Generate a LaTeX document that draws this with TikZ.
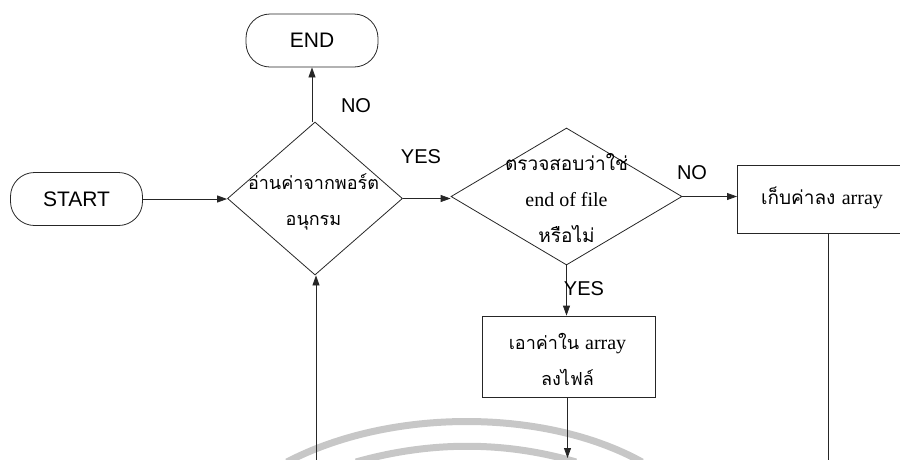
\documentclass[tikz,border=0pt]{standalone}
\usepackage{fontspec}
\setmainfont{Liberation Sans}
\newfontfamily\thaifont[Script=Thai]{Loma}
\newfontfamily\romanfont{Liberation Serif}
\usetikzlibrary{shapes.geometric,arrows.meta}

\tikzset{
  flowline/.style={line width=0.8pt, draw=black!85},
  flowarrow/.style={flowline, -{Triangle[length=10pt,width=7pt]}},
  terminal/.style={draw=black!85, line width=0.8pt, rounded corners=24pt,
    minimum width=132pt, minimum height=53pt, inner sep=0pt,
    font=\fontsize{21}{24}\selectfont},
  decision/.style={draw=black!85, line width=0.8pt, diamond, inner sep=0pt},
  process/.style={draw=black!85, line width=0.8pt, rectangle, inner sep=0pt},
  thaitext/.style={align=center},
  tag/.style={font=\fontsize{20}{24}\selectfont},
  watermark/.style={draw=black!22, line width=7pt}
}
\newcommand{\latinword}[1]{{\romanfont\fontsize{20}{24}\selectfont #1}}

\begin{document}
\begin{tikzpicture}[x=1pt, y=-1pt]
  \useasboundingbox (0,0) rectangle (900,459);

  % faint arcs along the lower edge
  \draw[watermark] (287,462) .. controls (390,408) and (545,408) .. (642,462);
  \draw[watermark] (356,462) .. controls (430,441) and (505,441) .. (576,462);

  % terminals
  \node[terminal] (start) at (76.5,199) {START};
  \node[terminal] (end) at (312,40.5) {END};

  % decisions
  \node[decision, minimum width=175pt, minimum height=153pt] (readport) at (315,198.5) {};
  \node[thaitext, font=\thaifont\fontsize{18}{36}\selectfont] (readtxt) at (313.5,202)
    {อ่านค่าจากพอร์ต\\อนุกรม};

  \node[decision, minimum width=231pt, minimum height=137pt] (eof) at (566.5,196.5) {};
  \node[thaitext, font=\thaifont\fontsize{19}{36}\selectfont] (eoftxt) at (566.5,198)
    {ตรวจสอบว่าใช่\\\latinword{end of file}\\หรือไม่};

  % processes
  \node[process, minimum width=180pt, minimum height=68pt, anchor=west] (store) at (737,199) {};
  \node[thaitext, font=\thaifont\fontsize{19}{24}\selectfont] (storetxt) at (822,198)
    {เก็บค่าลง \latinword{array}};

  \node[process, minimum width=173pt, minimum height=81pt] (save) at (568.5,356.5) {};
  \node[thaitext, font=\thaifont\fontsize{18}{36}\selectfont] (savetxt) at (567.5,359)
    {เอาค่าใน \latinword{array}\\ลงไฟล์};

  % loose ends along the bottom edge
  \coordinate (loopin) at (316,462);
  \coordinate (saveout) at (567.5,458);
  \coordinate (storeout) at (828,462);

  % connectors
  \draw[flowarrow] (start.east) -- (start.east -| readport.west);
  \draw[flowarrow] (readport.north -| end.south) -- (end.south);
  \draw[flowarrow] (readport.east) -- (readport.east -| eof.west);
  \draw[flowarrow] (eof.east) -- (eof.east -| store.west);
  \draw[flowarrow] (eof.south) -- (eof.south |- save.north);
  \draw[flowarrow] (save.south -| saveout) -- (saveout);
  \draw[flowarrow] (loopin) -- (loopin |- readport.south);
  \draw[flowline] (store.south -| storeout) -- (storeout);

  % branch labels
  \node[tag] (noend) at (356,106) {NO};
  \node[tag] (yesread) at (421,157) {YES};
  \node[tag] (noeof) at (692,173) {NO};
  \node[tag] (yeseof) at (584,289) {YES};
\end{tikzpicture}
\end{document}
